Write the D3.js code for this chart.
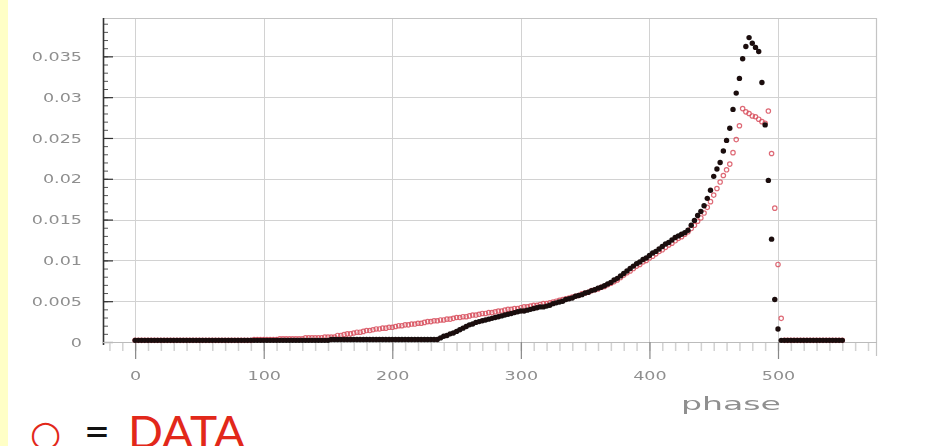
<!DOCTYPE html>
<html>
<head>
<meta charset="utf-8">
<script src="https://cdn.jsdelivr.net/npm/d3@7"></script>
<style>
  body { margin: 0; background: #ffffff; }
  svg { display: block; }
</style>
</head>
<body>
<svg id="chart" width="931" height="446"></svg>
<script>
// Histogram bins along the phase axis (bin width 2.5, starting at 0)
const binWidth = 2.5;

// Simulated distribution (black filled markers), one value per bin
const mcValues = [
  .0002,.0002,.0002,.0002,.0002,.0002,.0002,.0002,.0002,.0002,
  .0002,.0002,.0002,.0002,.0002,.0002,.0002,.0002,.0002,.0002,
  .0002,.0002,.0002,.0002,.0002,.0002,.0002,.0002,.0002,.0002,
  .0002,.0002,.0002,.0002,.0002,.0002,.0002,.0002,.0002,.0002,
  .0002,.0002,.0002,.0002,.0002,.0002,.0002,.0002,.0002,.0002,
  .0002,.0002,.0002,.0002,.0002,.0002,.0002,.0002,.0002,.0002,
  .0002,.0003,.0003,.0003,.0003,.0003,.0003,.0003,.0003,.0003,
  .0003,.0003,.0003,.0003,.0003,.0003,.0003,.0003,.0003,.0003,
  .0003,.0003,.0003,.0003,.0003,.0003,.0003,.0003,.0003,.0003,
  .0003,.0003,.0003,.0003,.0003,.0005,.0007,.0008,.0010,.0011,
  .0013,.0015,.0017,.0019,.0021,.0022,.0024,.0025,.0026,.0027,
  .0028,.0029,.0030,.0031,.0032,.0033,.0034,.0035,.0036,.0037,
  .0038,.0038,.0039,.0040,.0041,.0042,.0043,.0043,.0044,.0045,
  .0047,.0048,.0049,.0050,.0052,.0053,.0054,.0056,.0057,.0058,
  .0060,.0061,.0063,.0064,.0066,.0067,.0069,.0071,.0073,.0076,
  .0078,.0081,.0084,.0087,.0090,.0093,.0096,.0098,.0101,.0103,
  .0106,.0109,.0111,.0114,.0117,.0120,.0122,.0125,.0128,.0130,
  .0132,.0134,.0137,.0143,.0149,.0155,.0160,.0167,.0176,.0186,
  .0203,.0212,.0220,.0234,.0247,.0262,.0285,.0305,.0323,.0347,
  .0362,.0373,.0366,.0361,.0356,.0318,.0266,.0198,.0126,.0052,
  .0016,.0002,.0002,.0002,.0002,.0002,.0002,.0002,.0002,.0002,
  .0002,.0002,.0002,.0002,.0002,.0002,.0002,.0002,.0002,.0002,
  .0002
];

// Measured distribution (red open markers), one value per bin
const dataValues = [
  .0002,.0002,.0002,.0002,.0002,.0002,.0002,.0002,.0002,.0002,
  .0002,.0002,.0002,.0002,.0002,.0002,.0002,.0002,.0002,.0002,
  .0002,.0002,.0002,.0002,.0002,.0002,.0002,.0002,.0002,.0002,
  .0002,.0002,.0002,.0002,.0002,.0002,.0002,.0003,.0003,.0003,
  .0003,.0003,.0003,.0003,.0003,.0004,.0004,.0004,.0004,.0004,
  .0004,.0004,.0004,.0005,.0005,.0005,.0005,.0005,.0005,.0006,
  .0006,.0006,.0006,.0008,.0008,.0009,.0010,.0010,.0011,.0012,
  .0012,.0013,.0014,.0014,.0015,.0016,.0016,.0017,.0017,.0018,
  .0018,.0019,.0020,.0020,.0021,.0021,.0022,.0022,.0023,.0023,
  .0024,.0025,.0025,.0026,.0026,.0027,.0027,.0028,.0028,.0029,
  .0030,.0030,.0031,.0031,.0032,.0033,.0033,.0034,.0035,.0035,
  .0036,.0036,.0037,.0038,.0038,.0039,.0040,.0040,.0041,.0041,
  .0042,.0043,.0043,.0044,.0045,.0045,.0046,.0047,.0047,.0048,
  .0049,.0050,.0051,.0052,.0053,.0054,.0055,.0056,.0057,.0059,
  .0060,.0061,.0063,.0064,.0065,.0067,.0068,.0070,.0072,.0074,
  .0076,.0079,.0082,.0085,.0087,.0090,.0093,.0095,.0098,.0100,
  .0103,.0105,.0108,.0111,.0113,.0116,.0119,.0121,.0124,.0127,
  .0129,.0132,.0135,.0139,.0143,.0148,.0152,.0158,.0165,.0172,
  .0180,.0188,.0196,.0204,.0211,.0218,.0232,.0248,.0265,.0286,
  .0282,.0280,.0277,.0276,.0273,.0270,.0268,.0283,.0231,.0164,
  .0095,.0029,.0002,.0002,.0002,.0002,.0002,.0002,.0002,.0002,
  .0002,.0002,.0002,.0002,.0002,.0002,.0002,.0002,.0002,.0002,
  .0002
];

const phaseBins = mcValues.map((_, i) => i * binWidth);

const yTicks = [0, 0.005, 0.01, 0.015, 0.02, 0.025, 0.03, 0.035];
const yTickLabels = ["0", "0.005", "0.01", "0.015", "0.02", "0.025", "0.03", "0.035"];
const xTicks = [0, 100, 200, 300, 400, 500];
const xTickLabels = ["0", "100", "200", "300", "400", "500"];
const xTitle = "phase";
const legendSymbol = "○", legendEq = "=", legendLabel = "DATA";

const svg = d3.select("#chart");
const W = 931, H = 446;

// Soft-focus filters for the small axis text and the markers
const defs = svg.append("defs");
defs.append("filter").attr("id", "softText").attr("x", "-20%").attr("y", "-40%").attr("width", "140%").attr("height", "180%")
  .append("feGaussianBlur").attr("stdDeviation", 0.55);
defs.append("filter").attr("id", "softMarks").attr("x", "-5%").attr("y", "-5%").attr("width", "110%").attr("height", "110%")
  .append("feGaussianBlur").attr("stdDeviation", 0.45);

// Pale yellow slide edge
svg.append("rect").attr("x", 0).attr("y", 0).attr("width", 8).attr("height", H).attr("fill", "#ffffc6");

const x = d3.scaleLinear().domain([-25, 577]).range([103, 877]);
const y = d3.scaleLinear().domain([0, 0.0397]).range([342, 18]);

const frameTop = y.range()[1], frameBottom = y.range()[0];
const frameLeft = x.range()[0], frameRight = x.range()[1];

// Grid
const grid = svg.append("g").attr("stroke", "#d2d2d2").attr("stroke-width", 1);
grid.selectAll("line.h").data(yTicks.slice(1)).join("line")
  .attr("x1", frameLeft).attr("x2", frameRight)
  .attr("y1", d => Math.round(y(d)) + 0.5).attr("y2", d => Math.round(y(d)) + 0.5);
grid.selectAll("line.v").data(xTicks).join("line")
  .attr("y1", frameTop).attr("y2", frameBottom)
  .attr("x1", d => Math.round(x(d)) + 0.5).attr("x2", d => Math.round(x(d)) + 0.5);

// Frame (top and right)
svg.append("path")
  .attr("d", `M${frameLeft},${frameTop + 0.5}H${frameRight - 0.5}V${frameBottom + 14}`)
  .attr("fill", "none").attr("stroke", "#c4c4c4").attr("stroke-width", 1.2);

// Stretch text horizontally by a factor
function stretch(sel, k) {
  sel.each(function () {
    const len = this.getComputedTextLength();
    d3.select(this).attr("textLength", len * k).attr("lengthAdjust", "spacingAndGlyphs");
  });
}

// Left axis: minor ticks
svg.append("g").attr("transform", `translate(${frameLeft},0)`)
  .call(d3.axisLeft(y).tickValues(d3.range(0, 0.0396, 0.001)).tickSizeInner(-5).tickSizeOuter(0).tickFormat(""))
  .call(g => g.select(".domain").remove())
  .call(g => g.selectAll("line").attr("stroke", "#555"));

// Left axis: major ticks + labels
const yAxisG = svg.append("g").attr("transform", `translate(${frameLeft},0)`)
  .call(d3.axisLeft(y).tickValues(yTicks).tickSizeInner(-10).tickSizeOuter(0).tickPadding(21)
    .tickFormat((d, i) => yTickLabels[i]));
yAxisG.select(".domain").attr("stroke", "#333").attr("stroke-width", 1.6)
  .attr("d", `M0.5,${frameTop}V${frameBottom + 3}`);
yAxisG.selectAll(".tick line").attr("stroke", "#333").attr("stroke-width", 1.2);
yAxisG.selectAll(".tick text")
  .attr("font-family", "DejaVu Sans").attr("font-size", 13).attr("fill", "#8f8f8f")
  .attr("filter", "url(#softText)");
stretch(yAxisG.selectAll(".tick text"), 1.35);

// Bottom axis: minor ticks
svg.append("g").attr("transform", `translate(0,${frameBottom})`)
  .call(d3.axisBottom(x).tickValues(d3.range(-20, 571, 10)).tickSizeInner(9).tickSizeOuter(0).tickFormat(""))
  .call(g => g.select(".domain").remove())
  .call(g => g.selectAll("line").attr("stroke", "#d2d2d2").attr("stroke-width", 1.5));

// Bottom axis: major ticks + labels
const xAxisG = svg.append("g").attr("transform", `translate(0,${frameBottom})`)
  .call(d3.axisBottom(x).tickValues(xTicks).tickSizeInner(17).tickSizeOuter(0).tickPadding(12)
    .tickFormat((d, i) => xTickLabels[i]));
xAxisG.select(".domain").attr("stroke", "#bbb").attr("stroke-width", 1)
  .attr("d", `M${frameLeft},0.5H${frameRight}`);
xAxisG.selectAll(".tick line").attr("stroke", "#888").attr("stroke-width", 1.2);
xAxisG.selectAll(".tick text")
  .attr("font-family", "DejaVu Sans").attr("font-size", 13).attr("fill", "#8f8f8f")
  .attr("filter", "url(#softText)");
stretch(xAxisG.selectAll(".tick text"), 1.35);

// Axis title
const title = svg.append("text")
  .attr("x", x(500) + 3).attr("y", 410)
  .attr("text-anchor", "end")
  .attr("font-family", "DejaVu Sans").attr("font-size", 17).attr("fill", "#8f8f8f")
  .attr("filter", "url(#softText)")
  .text(xTitle);
stretch(title, 1.95);

// Measured points: red open circles
svg.append("g").attr("filter", "url(#softMarks)")
  .selectAll("circle").data(dataValues).join("circle")
  .attr("cx", (d, i) => x(phaseBins[i]))
  .attr("cy", d => y(d))
  .attr("r", 2.2)
  .attr("fill", "none")
  .attr("stroke", "#d8505e")
  .attr("stroke-width", 1.2)
  .attr("opacity", 0.85);

// Simulated points: black filled markers
svg.append("g").attr("filter", "url(#softMarks)")
  .selectAll("circle").data(mcValues).join("circle")
  .attr("cx", (d, i) => x(phaseBins[i]))
  .attr("cy", d => y(d))
  .attr("r", 2.7)
  .attr("fill", "#1a1010");

// Legend line below the chart
svg.append("text")
  .attr("x", 30).attr("y", 446)
  .attr("font-family", "DejaVu Sans").attr("font-size", 36).attr("fill", "#e2281a")
  .text(legendSymbol);
svg.append("text")
  .attr("x", 84).attr("y", 447)
  .attr("font-family", "Lato").attr("font-size", 44).attr("fill", "#111")
  .attr("textLength", 26).attr("lengthAdjust", "spacingAndGlyphs")
  .text(legendEq);
svg.append("text")
  .attr("x", 128).attr("y", 448)
  .attr("font-family", "Lato").attr("font-size", 44).attr("fill", "#e2281a")
  .attr("textLength", 117).attr("lengthAdjust", "spacingAndGlyphs")
  .text(legendLabel);
</script>
</body>
</html>
